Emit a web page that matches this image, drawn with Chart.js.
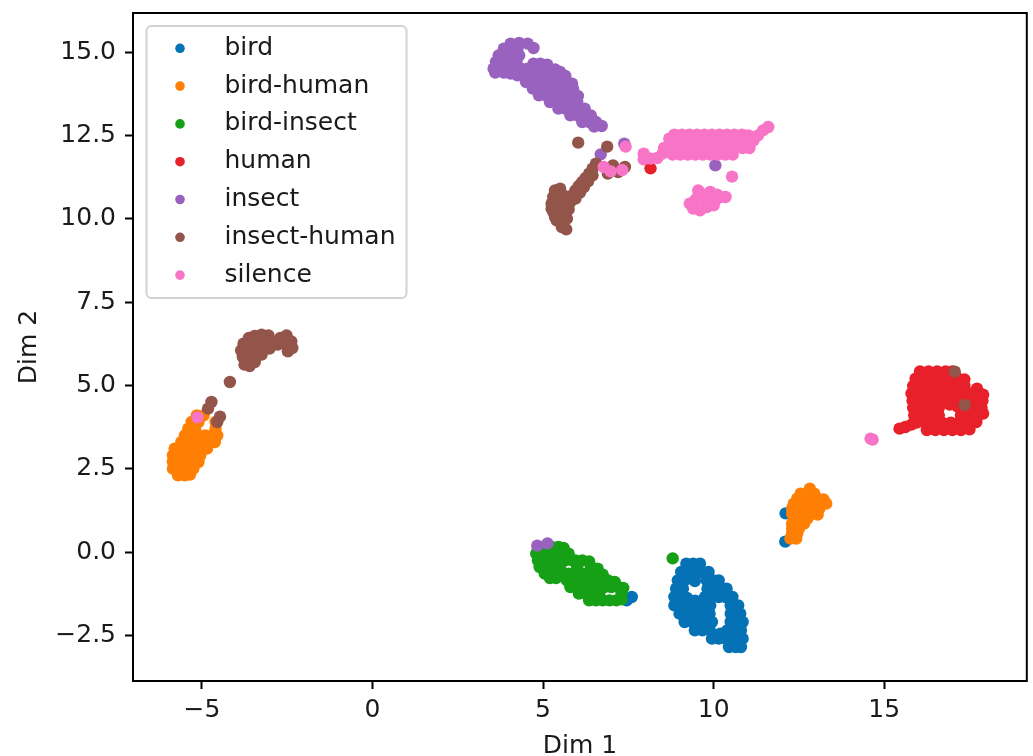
<!DOCTYPE html>
<html>
<head>
<meta charset="utf-8">
<script src="https://cdn.jsdelivr.net/npm/chart.js@4.4.1/dist/chart.umd.min.js"></script>
<style>
  html, body { margin: 0; padding: 0; background: #fff; }
  canvas { display: block; background: #fff; }
</style>
</head>
<body>
<canvas id="embedChart" width="1033" height="756"></canvas>
<script>
// 2-D embedding of the sound clips, one scatter series per label
const categories = ['bird', 'bird-human', 'bird-insect', 'human', 'insect', 'insect-human', 'silence'];
const palette = ['#0572b6', '#ff7f05', '#16a016', '#e8202a', '#9a62bf', '#93554a', '#f874c6'];

const birdPts = [
  [9.2,-0.35],[9.4,-0.35],[9.6,-0.35],
  [9.05,-0.6],[9.25,-0.6],[9.45,-0.6],[9.65,-0.6],[9.85,-0.6],
  [8.95,-0.85],[9.15,-0.85],[9.45,-0.87],[9.8,-0.85],[10.0,-0.85],[10.15,-0.85],
  [8.9,-1.1],[9.1,-1.1],[9.82,-1.1],[10.02,-1.1],[10.22,-1.1],[10.38,-1.1],
  [8.85,-1.35],[9.07,-1.35],[9.22,-1.38],[9.75,-1.35],[9.95,-1.35],[10.15,-1.35],[10.35,-1.35],[10.55,-1.35],
  [9.46,-1.46],
  [8.85,-1.6],[9.07,-1.6],[9.29,-1.6],[9.51,-1.6],[9.73,-1.6],[9.9,-1.6],[10.5,-1.6],[10.72,-1.6],
  [9.0,-1.85],[9.22,-1.85],[9.44,-1.85],[9.66,-1.85],[9.88,-1.85],[10.5,-1.85],[10.78,-1.85],
  [9.15,-2.1],[9.37,-2.1],[9.59,-2.1],[9.81,-2.1],[9.95,-2.1],[10.5,-2.1],[10.7,-2.1],[10.85,-2.1],
  [9.45,-2.35],[9.67,-2.35],[9.89,-2.35],[10.4,-2.35],[10.6,-2.35],[10.8,-2.35],
  [10.2,-2.45],
  [9.95,-2.6],[10.15,-2.6],[10.35,-2.6],[10.55,-2.6],[10.75,-2.6],[10.85,-2.6],
  [10.45,-2.85],[10.65,-2.85],[10.8,-2.85],
  [12.11,1.16],[12.1,0.31],[7.6,-1.35],[7.45,-1.45]
];

const birdHumanPts = [
  [-5.15,4.1],[-4.95,4.1],
  [-5.3,3.9],[-5.1,3.9],[-4.6,3.9],
  [-5.4,3.7],[-5.2,3.7],[-4.6,3.7],
  [-5.5,3.5],[-5.3,3.5],[-5.1,3.5],[-4.9,3.5],[-4.7,3.5],[-4.55,3.5],
  [-5.6,3.3],[-5.4,3.3],[-5.2,3.3],[-5.0,3.3],[-4.8,3.3],[-4.62,3.3],
  [-5.8,3.1],[-5.6,3.1],[-5.4,3.1],[-5.2,3.1],[-5.0,3.1],[-4.85,3.1],
  [-5.85,2.9],[-5.65,2.9],[-5.45,2.9],[-5.25,2.9],[-5.05,2.9],
  [-5.85,2.7],[-5.65,2.7],[-5.45,2.7],[-5.25,2.7],[-5.1,2.7],
  [-5.85,2.5],[-5.65,2.5],[-5.45,2.5],[-5.25,2.5],
  [-5.7,2.3],[-5.5,2.3],[-5.35,2.32],
  [12.82,1.9],
  [12.55,1.75],[12.75,1.75],[12.95,1.75],
  [12.45,1.6],[12.65,1.6],[12.85,1.6],[13.05,1.6],[13.22,1.58],
  [12.35,1.45],[12.55,1.45],[12.75,1.45],[12.95,1.45],[13.15,1.45],[13.3,1.45],
  [12.3,1.3],[12.5,1.3],[12.7,1.3],[12.9,1.3],[13.1,1.3],
  [12.3,1.15],[12.5,1.15],[12.7,1.15],[12.9,1.15],[13.05,1.12],
  [12.35,1.0],[12.55,1.0],[12.75,1.0],
  [12.3,0.85],[12.5,0.85],[12.65,0.85],
  [12.3,0.7],[12.5,0.7],
  [12.3,0.55],[12.45,0.55],
  [12.25,0.4],[12.42,0.4]
];

const birdInsectPts = [
  [4.85,0.15],[5.05,0.15],[5.25,0.15],[5.45,0.15],[5.6,0.12],
  [4.8,-0.05],[5.0,-0.05],[5.2,-0.05],[5.4,-0.05],[5.6,-0.05],[5.75,-0.05],
  [4.85,-0.25],[5.05,-0.25],[5.25,-0.25],[5.45,-0.25],[5.65,-0.25],[5.85,-0.25],
  [4.9,-0.45],[5.1,-0.45],[5.3,-0.45],[5.5,-0.45],
  [5.05,-0.65],[5.25,-0.65],[5.45,-0.65],[5.62,-0.65],
  [5.2,-0.78],[5.38,-0.78],
  [5.95,-0.25],[6.15,-0.25],[6.35,-0.28],
  [6.0,-0.45],[6.4,-0.45],[6.6,-0.5],
  [5.75,-0.65],[5.95,-0.65],[6.15,-0.65],[6.35,-0.65],[6.55,-0.65],[6.75,-0.68],
  [5.7,-0.85],[5.9,-0.85],[6.1,-0.85],[6.3,-0.85],[6.5,-0.85],[6.7,-0.85],[6.9,-0.85],[7.1,-0.9],
  [5.8,-1.05],[6.0,-1.05],[6.2,-1.05],[6.4,-1.05],[6.6,-1.05],[6.8,-1.05],[7.0,-1.05],[7.2,-1.05],[7.35,-1.08],
  [6.05,-1.25],[6.25,-1.25],[6.45,-1.25],[6.65,-1.25],[7.3,-1.25],
  [6.35,-1.45],[6.55,-1.45],[6.75,-1.45],[6.95,-1.45],[7.15,-1.45],[7.3,-1.42],
  [8.8,-0.19]
];

const humanPts = [
  [16.05,5.42],[16.3,5.42],[16.55,5.42],[16.8,5.42],[17.0,5.42],
  [15.92,5.2],[16.17,5.2],[16.42,5.2],[16.67,5.2],[16.92,5.2],[17.17,5.2],[17.35,5.18],
  [15.85,4.98],[16.1,4.98],[16.35,4.98],[16.6,4.98],[16.85,4.98],[17.1,4.98],[17.35,4.98],[17.72,4.9],
  [15.8,4.76],[16.05,4.76],[16.3,4.76],[16.55,4.76],[16.8,4.76],[17.05,4.76],[17.3,4.76],[17.55,4.76],[17.8,4.76],[17.9,4.72],
  [15.83,4.54],[16.08,4.54],[16.33,4.54],[16.58,4.54],[16.83,4.54],[17.08,4.54],[17.33,4.54],[17.6,4.54],[17.88,4.54],
  [15.85,4.32],[16.1,4.32],[16.35,4.32],[16.6,4.32],[16.92,4.42],[17.15,4.36],[17.35,4.32],[17.6,4.32],[17.85,4.32],
  [15.88,4.1],[16.13,4.1],[16.38,4.1],[16.6,4.1],[17.25,4.1],[17.5,4.1],[17.75,4.1],[17.9,4.15],
  [15.95,3.88],[16.2,3.88],[16.45,3.88],[16.7,3.88],[16.95,3.88],[17.2,3.88],[17.45,3.88],[17.7,3.9],
  [16.25,3.66],[16.5,3.66],[16.75,3.66],[17.0,3.66],[17.25,3.66],[17.5,3.68],
  [15.45,3.7],[15.62,3.75],[15.8,3.82],
  [8.15,11.51]
];

const insectPts = [
  [4.05,15.25],[4.3,15.27],[4.55,15.25],
  [3.85,15.1],[4.05,15.1],[4.25,15.1],[4.72,15.12],
  [3.7,14.9],[3.9,14.9],[4.1,14.9],[4.3,14.9],
  [3.62,14.7],[3.82,14.7],[4.02,14.7],[4.22,14.7],[4.72,14.65],[4.92,14.65],[5.12,14.62],
  [3.55,14.5],[3.75,14.5],[3.95,14.5],[4.15,14.5],[4.35,14.5],[4.55,14.5],[4.75,14.5],
  [4.95,14.5],[5.15,14.5],[5.35,14.48],[5.5,14.4],
  [3.6,14.38],[3.85,14.38],[4.05,14.35],
  [4.25,14.3],[4.45,14.3],[4.65,14.3],[4.85,14.3],[5.05,14.3],[5.25,14.3],[5.45,14.3],[5.65,14.28],
  [4.5,14.1],[4.7,14.1],[4.9,14.1],[5.1,14.1],[5.3,14.1],[5.5,14.1],[5.7,14.1],[5.85,14.05],
  [4.7,13.9],[4.9,13.9],[5.1,13.9],[5.3,13.9],[5.5,13.9],[5.7,13.9],[5.88,13.9],
  [4.88,13.7],[5.08,13.7],[5.28,13.7],[5.48,13.7],[5.68,13.7],[5.88,13.7],[6.02,13.68],
  [5.2,13.5],[5.4,13.5],[5.6,13.5],[5.8,13.5],[6.0,13.5],
  [5.45,13.3],[5.65,13.3],[5.85,13.3],[6.05,13.3],[6.22,13.3],
  [5.8,13.1],[6.0,13.1],[6.2,13.1],[6.4,13.1],
  [6.15,12.9],[6.35,12.9],[6.55,12.9],
  [6.5,12.76],[6.72,12.78],
  [6.69,11.93],[7.38,12.25],[10.05,11.6],[4.83,0.19],[5.13,0.26]
];

const insectHumanPts = [
  [5.35,10.85],[5.5,10.9],[5.3,10.65],[5.45,10.65],[5.6,10.7],[5.25,10.45],[5.4,10.4],[5.55,10.45],
  [5.72,10.5],[5.3,10.2],[5.45,10.15],[5.6,10.2],[5.75,10.28],[5.4,9.95],[5.55,9.95],[5.7,10.0],
  [5.55,9.75],[5.68,9.68],[5.25,10.3],[5.35,10.05],
  [5.85,10.7],[5.95,10.85],[6.05,10.98],[6.15,11.1],[6.25,11.22],[6.35,11.35],[6.45,11.5],[6.55,11.65],
  [5.95,10.6],[6.08,10.78],[6.2,10.95],[6.32,11.12],[6.45,11.3],[5.8,10.5],
  [6.03,12.28],[6.88,12.16],[7.05,11.6],[7.2,11.4],[7.4,11.55],[6.9,11.35],
  [-3.85,6.05],[-3.8,5.85],[-3.75,5.62],[-3.78,6.25],[-3.62,6.42],[-3.6,6.2],[-3.6,6.0],
  [-3.6,5.8],[-3.6,5.58],[-3.45,6.48],[-3.42,6.28],[-3.42,6.08],[-3.42,5.88],[-3.45,5.7],
  [-3.25,6.52],[-3.22,6.32],[-3.22,6.12],[-3.25,5.92],[-3.05,6.5],[-3.02,6.3],[-3.02,6.1],
  [-2.9,6.3],
  [-2.78,6.22],[-2.7,6.42],[-2.52,6.5],[-2.38,6.32],[-2.35,6.12],[-2.48,6.02],[-2.6,6.25],
  [-4.18,5.1],[-4.72,4.5],[-4.82,4.3],[-4.47,4.06],[-4.55,3.9],
  [17.07,5.41],[17.36,4.41]
];

const silencePts = [
  [7.95,11.95],[7.95,11.78],[8.15,11.8],[8.35,11.82],[8.5,11.95],[8.55,12.12],[8.7,12.4],
  [8.85,12.52],[9.07,12.52],[9.29,12.52],[9.51,12.52],[9.73,12.52],[9.95,12.52],[10.17,12.52],
  [10.39,12.52],[10.61,12.52],[10.83,12.52],[11.02,12.5],
  [8.75,12.32],[8.97,12.32],[9.19,12.32],[9.41,12.32],[9.63,12.32],[9.85,12.32],[10.07,12.32],
  [10.29,12.32],[10.51,12.32],[10.73,12.32],[10.95,12.32],[11.17,12.35],
  [8.65,12.12],[8.87,12.12],[9.09,12.12],[9.31,12.12],[9.53,12.12],[9.75,12.12],[9.97,12.12],
  [10.19,12.12],[10.41,12.12],[10.63,12.12],[10.85,12.12],[11.05,12.12],
  [8.8,11.92],[9.02,11.92],[9.24,11.92],[9.46,11.92],[9.68,11.92],[9.9,11.92],[10.12,11.92],
  [10.34,11.92],[10.56,11.92],
  [11.3,12.5],[11.45,12.65],[11.6,12.75],
  [9.55,10.85],[9.9,10.8],[10.2,10.65],[10.35,10.65],[9.3,10.45],[9.45,10.55],[9.65,10.6],[9.85,10.55],
  [10.05,10.55],[9.4,10.3],[9.6,10.25],[9.8,10.35],[10.0,10.4],[9.55,10.7],[9.75,10.72],[10.1,10.72],
  [10.54,11.26],[6.78,11.55],[6.98,11.42],[7.32,11.46],[7.42,12.16],
  [-5.13,4.04],[14.6,3.4],[14.66,3.37]
];

const seriesPts = [birdPts, birdHumanPts, birdInsectPts, humanPts, insectPts, insectHumanPts, silencePts];

const xTicks = [-5, 0, 5, 10, 15];
const yTicks = [-2.5, 0, 2.5, 5, 7.5, 10, 12.5, 15];
const xRange = [-7.02, 19.18];
const yRange = [-3.87, 16.17];

const FONT = 'DejaVu Sans';
const INK = '#1a1a1a';
const MARKER_R = 6.2;
const LEGEND_R = 4.8;

const minusFmt = (s) => s.replace('-', '\u2212');

// full box around the axes, drawn over the points like matplotlib spines
const framePlugin = {
  id: 'frame',
  afterDatasetsDraw(chart) {
    const { ctx, chartArea: a } = chart;
    ctx.save();
    ctx.strokeStyle = '#000';
    ctx.lineWidth = 2;
    ctx.strokeRect(a.left, a.top, a.right - a.left, a.bottom - a.top);
    ctx.restore();
  }
};

// legend box in the upper left corner of the axes
const boxLegendPlugin = {
  id: 'boxLegend',
  afterDraw(chart) {
    const { ctx, chartArea: a } = chart;
    const left = a.left + 13.5, top = a.top + 13;
    const w = 260, h = 272, rowGap = 37.8;
    ctx.save();
    ctx.beginPath();
    ctx.roundRect(left, top, w, h, 5);
    ctx.fillStyle = 'rgba(255,255,255,0.8)';
    ctx.fill();
    ctx.lineWidth = 2;
    ctx.strokeStyle = '#d2d2d2';
    ctx.stroke();
    ctx.font = '25px "' + FONT + '"';
    ctx.textBaseline = 'middle';
    ctx.textAlign = 'left';
    chart.data.datasets.forEach((ds, i) => {
      const y = top + 22.3 + i * rowGap;
      ctx.beginPath();
      ctx.arc(left + 33.5, y, LEGEND_R, 0, Math.PI * 2);
      ctx.fillStyle = ds.backgroundColor;
      ctx.fill();
      ctx.fillStyle = INK;
      ctx.fillText(ds.label, left + 78, y);
    });
    ctx.restore();
  }
};

const tickFont = { family: FONT, size: 25 };

// keep the plot box fixed: no extra room reserved for edge labels
const noEdgePadding = (s) => {
  s.paddingTop = 0; s.paddingBottom = 0; s.paddingLeft = 0; s.paddingRight = 0;
};

new Chart(document.getElementById('embedChart').getContext('2d'), {
  type: 'scatter',
  data: {
    datasets: categories.map((name, i) => ({
      label: name,
      data: seriesPts[i].map(([x, y]) => ({ x, y })),
      backgroundColor: palette[i],
      borderWidth: 0,
      pointRadius: MARKER_R,
      pointHoverRadius: MARKER_R,
      // later labels are painted on top
      order: categories.length - 1 - i
    }))
  },
  options: {
    responsive: false,
    animation: false,
    events: [],
    layout: { padding: { left: 0, top: 13, right: 4, bottom: 0 } },
    plugins: { legend: { display: false }, tooltip: { enabled: false } },
    scales: {
      x: {
        type: 'linear',
        position: 'bottom',
        min: xRange[0],
        max: xRange[1],
        afterBuildTicks: (s) => { s.ticks = xTicks.map((v) => ({ value: v })); },
        afterFit: (s) => { s.height = 75; noEdgePadding(s); },
        grid: { drawOnChartArea: false, drawTicks: true, tickLength: 8, tickWidth: 2, tickColor: '#000' },
        border: { display: false },
        ticks: {
          padding: 6, color: INK, font: tickFont, autoSkip: false, maxRotation: 0,
          callback: (v) => minusFmt(String(v))
        },
        title: { display: true, text: 'Dim 1', color: INK, font: tickFont, padding: { top: 0, bottom: -5 } }
      },
      y: {
        type: 'linear',
        position: 'left',
        min: yRange[0],
        max: yRange[1],
        afterBuildTicks: (s) => { s.ticks = yTicks.map((v) => ({ value: v })); },
        afterFit: (s) => { s.width = 133; noEdgePadding(s); },
        grid: { drawOnChartArea: false, drawTicks: true, tickLength: 8, tickWidth: 2, tickColor: '#000' },
        border: { display: false },
        ticks: {
          padding: 9, color: INK, font: tickFont, autoSkip: false,
          callback: (v) => minusFmt(Number(v).toFixed(1))
        },
        title: { display: true, text: 'Dim 2', color: INK, font: tickFont, padding: { top: 14, bottom: 0 } }
      }
    }
  },
  plugins: [framePlugin, boxLegendPlugin]
});
</script>
</body>
</html>
